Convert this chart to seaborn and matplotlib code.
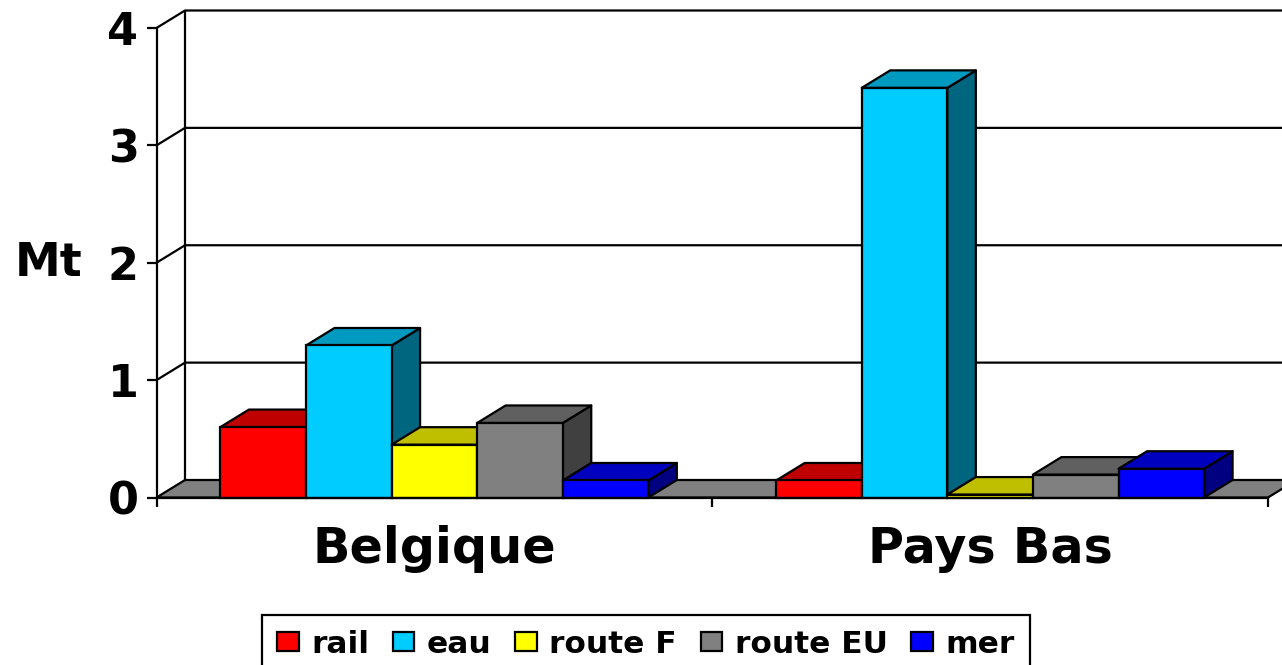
import matplotlib
matplotlib.use("Agg")
import matplotlib.pyplot as plt
import matplotlib.patches as mpatches
import pandas as pd
import seaborn as sns

# Values (Mt)
pays = ["Belgique", "Pays Bas"]
modes = ["rail", "eau", "route F", "route EU", "mer"]
belgique = [0.60, 1.295, 0.45, 0.635, 0.145]
pays_bas = [0.145, 3.49, 0.025, 0.195, 0.245]
y_ticks = [0, 1, 2, 3, 4]

couleurs = ["#FF0000", "#00CCFF", "#FFFF00", "#808080", "#0000FF"]
dessus = ["#BF0000", "#0099BF", "#BFBF00", "#606060", "#0000BF"]
cotes = ["#800000", "#006680", "#808000", "#404040", "#000080"]

sns.set_theme(style="white")
# DejaVu bold is close to the stretched bold face of the original
plt.rcParams["font.family"] = ["DejaVu Sans"]
plt.rcParams["font.weight"] = "bold"

df = pd.DataFrame({
    "pays": [p for p in pays for _ in modes],
    "mode": modes * 2,
    "Mt": belgique + pays_bas,
})

W, H = 1282, 665
LW = 1.6
fig = plt.figure(figsize=(W / 100, H / 100), dpi=100)
left, right, bottom, top = 156.5, 1268, 497.5, 28
ax = fig.add_axes([left / W, 1 - bottom / H, (right - left) / W, (bottom - top) / H])

sns.barplot(data=df, x="pays", y="Mt", hue="mode", order=pays, hue_order=modes,
            palette=couleurs, saturation=1, width=0.77, gap=0, dodge=True,
            edgecolor="black", linewidth=LW, legend=False, ax=ax)

ax.set_xlim(-0.5, 1.5)
ax.set_ylim(0, 4)

# depth of the fake 3D, pixels converted to data units
dx = 28.5 * 2 / (right - left)
dy = 17.5 * 4 / (bottom - top)

# floor and back wall
x0, x1 = ax.get_xlim()
ax.add_patch(mpatches.Polygon([(x0, 0), (x0 + dx, dy), (x1 + dx, dy), (x1, 0)],
                              facecolor="#808080", edgecolor="black", linewidth=LW,
                              clip_on=False, zorder=1))
ax.plot([x0 + dx, x0 + dx], [dy, 4 + dy], color="black", lw=LW, clip_on=False, zorder=1)
for t in y_ticks[1:]:
    ax.plot([x0, x0 + dx, x1 + dx], [t, t + dy, t + dy], color="black", lw=LW,
            clip_on=False, zorder=1)

# side and top faces, bars from left to right so each one hides the previous
bars = [p for p in ax.patches if isinstance(p, mpatches.Rectangle)]
bars = [b for b in bars if b.get_width() > 0 and b.get_width() < 1]
bars = sorted(bars, key=lambda b: b.get_x())
for i, b in enumerate(bars):
    k = i % len(modes)
    xa, xb, h = b.get_x(), b.get_x() + b.get_width(), b.get_height()
    z = 3 + i
    ax.add_patch(mpatches.Polygon([(xb, 0), (xb + dx, dy), (xb + dx, h + dy), (xb, h)],
                                  facecolor=cotes[k], edgecolor="black", linewidth=LW,
                                  joinstyle="round", clip_on=False, zorder=z))
    ax.add_patch(mpatches.Polygon([(xa, h), (xa + dx, h + dy), (xb + dx, h + dy), (xb, h)],
                                  facecolor=dessus[k], edgecolor="black", linewidth=LW,
                                  joinstyle="round", clip_on=False, zorder=z))
    b.set_zorder(z + 0.5)
    b.set_clip_on(False)

# axes and ticks
for s in ["top", "right"]:
    ax.spines[s].set_visible(False)
for s in ["left", "bottom"]:
    ax.spines[s].set_linewidth(LW)
    ax.spines[s].set_color("black")
    ax.spines[s].set_zorder(20)

ax.set_yticks(y_ticks)
ax.set_yticklabels([str(t) for t in y_ticks], fontsize=32, fontweight="bold", color="black")
ax.tick_params(axis="y", left=True, length=7.5, width=LW, color="black", pad=5.5)
ax.set_xticks([0, 1])
ax.set_xticklabels(pays, fontsize=35.5, fontweight="bold", color="black")
ax.set_xticks([-0.5, 0.5, 1.5], minor=True)
ax.tick_params(axis="x", which="major", bottom=False, pad=14)
ax.tick_params(axis="x", which="minor", bottom=True, length=6.5, width=LW, color="black")

ax.set_xlabel("")
ax.set_ylabel("Mt", rotation=0, fontsize=33, fontweight="bold", color="black",
              ha="center", va="center")
ax.yaxis.set_label_coords((48.5 - left) / (right - left), (bottom - 263) / (bottom - top))

# legend box runs off the bottom of the figure, like the original
handles = [mpatches.Patch(facecolor=c, edgecolor="black", linewidth=LW, label=m)
           for c, m in zip(couleurs, modes)]
leg = fig.legend(handles=handles, ncol=5, loc="upper left",
                 bbox_to_anchor=(262 / W, 1 - 615 / H), bbox_transform=fig.transFigure,
                 borderaxespad=0, frameon=True, fancybox=False,
                 edgecolor="black", framealpha=1, handlelength=0.7, handleheight=0.57,
                 handletextpad=0.4, columnspacing=0.75, borderpad=0.47,
                 labelcolor="black", prop={"weight": "bold", "size": 22.5})
leg.get_frame().set_linewidth(LW)

plt.savefig("out.png", dpi=100)
